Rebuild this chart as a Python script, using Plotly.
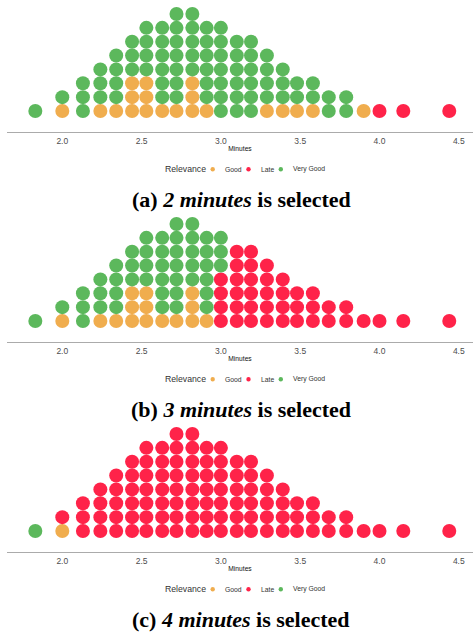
import plotly.graph_objects as go

# ---------------- data ----------------
# bin centres (minutes) of the dot-plot columns
minutes = [1.83, 2.00, 2.13, 2.24, 2.34, 2.44, 2.53, 2.63, 2.72, 2.82, 2.91, 3.00,
           3.10, 3.19, 3.29, 3.39, 3.48, 3.58, 3.68, 3.79, 3.90, 4.00, 4.15, 4.44]

# stacks bottom -> top ; G = Good, L = Late, V = Very Good
stacks_2min = ["V", "GV", "VVV", "GVVV", "GVVVV", "GGGVVV", "GGGVVVV", "GVVVVVV",
               "GVVVVVVV", "GGGVVVVV", "GVVVVVV", "VVVVVVV", "VVVVVV", "VVVVVV",
               "GVVVV", "GVVV", "GVV", "GVV", "VV", "VV", "G", "L", "L", "L"]
stacks_3min = ["V", "GV", "VVV", "GVVV", "GVVVV", "GGGVVV", "GGGVVVV", "GVVVVVV",
               "GVVVVVVV", "GGGVVVVV", "GVVVVVV", "LLLLVVV", "LLLLLL", "LLLLLL",
               "LLLLL", "LLLL", "LLL", "LLL", "LL", "LL", "L", "L", "L", "L"]
stacks_4min = ["V", "GL", "LLL", "LLLL", "LLLLL", "LLLLLL", "LLLLLLL", "LLLLLLL",
               "LLLLLLLL", "LLLLLLLL", "LLLLLLL", "LLLLLLL", "LLLLLL", "LLLLLL",
               "LLLLL", "LLLL", "LLL", "LLL", "LL", "LL", "L", "L", "L", "L"]

captions = ["(a) <i>2 minutes</i> is selected",
            "(b) <i>3 minutes</i> is selected",
            "(c) <i>4 minutes</i> is selected"]

categories = ["Good", "Late", "Very Good"]
codes = {"G": "Good", "L": "Late", "V": "Very Good"}
colors = {"Good": "#F0AD4E", "Late": "#FF2349", "Very Good": "#5CB85C"}

tick_vals = [2.0, 2.5, 3.0, 3.5, 4.0, 4.5]
tick_text = ["2.0", "2.5", "3.0", "3.5", "4.0", "4.5"]

# ---------------- layout constants (pixels) ----------------
W, H = 473, 632
PANEL_STEP = 210
AXIS_LINE = 131.7        # y of axis line in first panel
PLOT_H = 126.7           # plot area height
ROW = 13.86              # stack spacing
FIRST_ROW_GAP = 20.7     # axis line -> centre of first dot
DOT = 14
X_LEFT_PX = 7
PX_PER_MIN = 158.6
X2_PX = 62.3             # pixel of 2.0

x_range = [2.0 - (X2_PX - X_LEFT_PX) / PX_PER_MIN, 2.0 + (W - X2_PX) / PX_PER_MIN]
y0 = -FIRST_ROW_GAP / ROW
y_range = [y0, y0 + PLOT_H / ROW]

fig = go.Figure()
layout = dict(width=W, height=H, margin=dict(l=0, r=0, t=0, b=0),
              paper_bgcolor="white", plot_bgcolor="white", showlegend=False,
              font=dict(family="Liberation Sans, Arial, sans-serif"))
annotations, shapes = [], []

for i, stacks in enumerate([stacks_2min, stacks_3min, stacks_4min]):
    suffix = "" if i == 0 else str(i + 1)
    xa, ya = "x" + suffix, "y" + suffix
    pts = {c: ([], []) for c in categories}
    for xm, stack in zip(minutes, stacks):
        for r, ch in enumerate(stack):
            pts[codes[ch]][0].append(xm)
            pts[codes[ch]][1].append(r)
    for c in categories:
        fig.add_trace(go.Scatter(
            x=pts[c][0], y=pts[c][1], mode="markers", name=c, xaxis=xa, yaxis=ya,
            marker=dict(size=DOT, color=colors[c], line=dict(width=0)),
            cliponaxis=False, hoverinfo="x+name"))
    line_px = AXIS_LINE + i * PANEL_STEP
    top_px = line_px - PLOT_H
    dom = [1 - line_px / H, 1 - top_px / H]
    layout["xaxis" + suffix] = dict(
        domain=[X_LEFT_PX / W, 1], range=x_range, anchor=ya,
        showline=True, linecolor="#ABABAB", linewidth=1.2,
        showgrid=False, zeroline=False, ticks="",
        tickvals=tick_vals, ticktext=tick_text, ticklabelstandoff=1,
        tickfont=dict(size=8.5, color="#4D4D4D"),
        title=dict(text="Minutes", font=dict(size=6.7, color="#111"), standoff=1))
    layout["yaxis" + suffix] = dict(
        domain=dom, range=y_range, anchor=xa, visible=False, fixedrange=True)

    # legend (manual, compact like ggplot)
    leg_y = 1 - (169.3 + i * PANEL_STEP) / H
    annotations.append(dict(xref="paper", yref="paper", x=163 / W, y=leg_y,
                            xanchor="left", yanchor="middle", showarrow=False,
                            text="Relevance", font=dict(size=8.7, color="#333")))
    item_dot_x = [212.7, 248.5, 280.8]
    item_text_x = [222.5, 258.5, 291.2]
    for c, dx, tx in zip(categories, item_dot_x, item_text_x):
        shapes.append(dict(type="circle", xref="paper", yref="paper",
                           xsizemode="pixel", ysizemode="pixel",
                           xanchor=dx / W, yanchor=leg_y,
                           x0=-2.2, x1=2.2, y0=-2.2, y1=2.2,
                           fillcolor=colors[c], line=dict(width=0)))
        annotations.append(dict(xref="paper", yref="paper", x=tx / W, y=leg_y,
                                xanchor="left", yanchor="middle", showarrow=False,
                                text=c, font=dict(size=6.8, color="#333")))
    # caption
    annotations.append(dict(xref="paper", yref="paper", x=241 / W,
                            y=1 - (199 + i * PANEL_STEP) / H,
                            xanchor="center", yanchor="middle", showarrow=False,
                            text="<b>" + captions[i] + "</b>",
                            font=dict(size=22, color="#000",
                                      family="Liberation Serif, DejaVu Serif, serif")))

layout["annotations"] = annotations
layout["shapes"] = shapes
fig.update_layout(**layout)
fig.write_html("out.html", config={"displayModeBar": False},
               post_script="document.body.style.margin='0';document.body.style.padding='0';")
